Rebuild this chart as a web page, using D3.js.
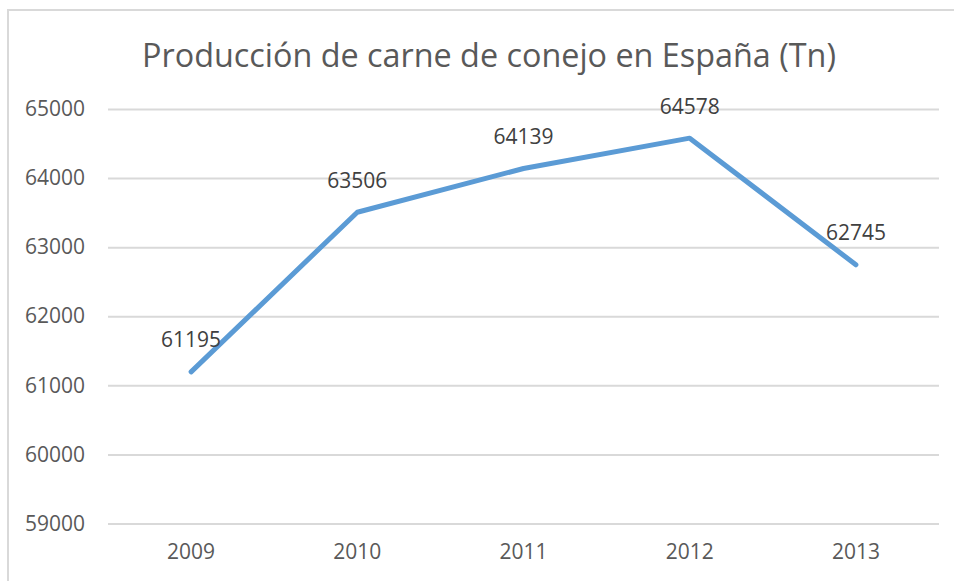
<!DOCTYPE html>
<html><head><meta charset="utf-8">
<script src="https://cdn.jsdelivr.net/npm/d3@7"></script>
<style>body{margin:0;background:#fff;overflow:hidden}svg{display:block}</style>
</head><body>
<svg id="c" width="954" height="581"></svg>
<script>
const title = "Producción de carne de conejo en España (Tn)";
const years = ["2009","2010","2011","2012","2013"];
const values = [61195, 63506, 64139, 64578, 62745];
const yTicks = [59000, 60000, 61000, 62000, 63000, 64000, 65000];

const svg = d3.select("#c");
const font = "'Open Sans', sans-serif";
svg.append("rect").attr("x",0).attr("y",0).attr("width",954).attr("height",581).attr("fill","#fff");
svg.append("rect").attr("x",8).attr("y",10).attr("width",960).attr("height",620)
  .attr("fill","none").attr("stroke","#d9d9d9").attr("stroke-width",2);

const x = d3.scaleBand().domain(years).range([108, 939]);
const y = d3.scaleLinear().domain([59000, 65000]).range([523.5, 109]);

const t = svg.append("text").attr("x",489).attr("y",67).attr("text-anchor","middle")
  .attr("font-family",font).attr("font-size",34).attr("fill","#595959").text(title);
const tw = t.node().getComputedTextLength();
t.attr("font-size", 34*694/tw);

const ya = svg.append("g").attr("transform","translate(108,0)")
  .call(d3.axisLeft(y).tickValues(yTicks).tickFormat(d3.format("d")).tickSize(-831).tickPadding(20));
ya.select(".domain").remove();
ya.selectAll("line").attr("stroke","#d9d9d9").attr("stroke-width",2);
ya.selectAll("text").attr("font-family",font).attr("font-size",21).attr("fill","#595959")
  .attr("text-anchor","start").attr("x",-83);

const xa = svg.append("g").attr("transform","translate(0,523.5)")
  .call(d3.axisBottom(x).tickSize(0).tickPadding(21));
xa.select(".domain").remove();
xa.selectAll("text").attr("font-family",font).attr("font-size",21).attr("fill","#595959");

const pts = years.map((yr,i)=>({yr, v: values[i]}));
const line = d3.line().x(d=>x(d.yr)+x.bandwidth()/2).y(d=>y(d.v));
svg.append("path").datum(pts).attr("d",line).attr("fill","none")
  .attr("stroke","#5b9bd5").attr("stroke-width",5).attr("stroke-linecap","round").attr("stroke-linejoin","round");

svg.selectAll(".lbl").data(pts).enter().append("text")
  .attr("x",d=>x(d.yr)+x.bandwidth()/2).attr("y",d=>y(d.v)-32)
  .attr("dy","0.35em").attr("text-anchor","middle")
  .attr("font-family",font).attr("font-size",21).attr("fill","#404040")
  .text(d=>d.v);
</script>
</body></html>
